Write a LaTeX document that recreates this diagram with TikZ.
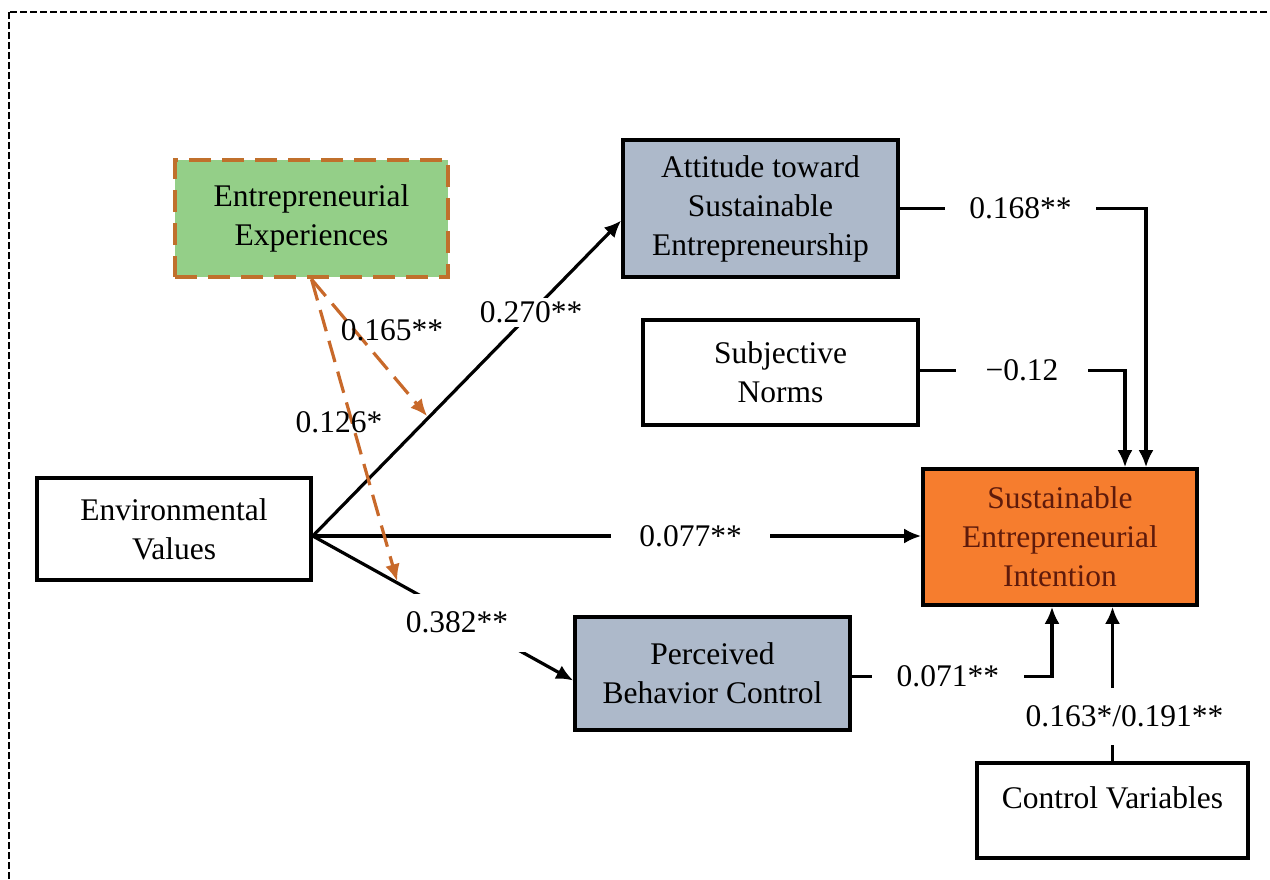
\documentclass[tikz,border=0pt]{standalone}
\usepackage{fontspec}
\setmainfont{Liberation Serif}
\usetikzlibrary{arrows.meta,calc}
\definecolor{eegreen}{HTML}{94CF88}
\definecolor{eeborder}{HTML}{C0702C}
\definecolor{modarrow}{HTML}{C8692A}
\definecolor{bluegray}{HTML}{ADB9CA}
\definecolor{seifill}{HTML}{F67D2E}
\definecolor{seitext}{HTML}{5E1A0B}
\begin{document}
\begin{tikzpicture}[x=1pt,y=-1pt,
  font=\fontsize{31.5}{39}\selectfont,
  box/.style={draw, line width=3.6pt, inner sep=0pt, align=center},
  arr/.style={line width=3.2pt, -{Latex[length=17pt,width=15pt]}},
  oarr/.style={line width=3.2pt, draw=modarrow, dash pattern=on 22pt off 10pt,
    -{Latex[length=17pt,width=15pt]}, shorten >=2pt},
  lbl/.style={fill=white, inner xsep=25pt, inner ysep=4pt},
  freelbl/.style={inner sep=0pt}]
\useasboundingbox (0,0) rectangle (1270,880);
\clip (0,0) rectangle (1270,880);
% outer dashed frame
\draw[line width=2.2pt, dash pattern=on 7pt off 3pt] (9,12) rectangle (1290,900);

% boxes
\node[box, draw=eeborder, line width=4.5pt, dash pattern=on 22pt off 11pt, fill=eegreen,
  minimum width=273pt, minimum height=117pt] (EE) at (311.5,218.5)
  {Entrepreneurial\\Experiences};
\node[box, fill=bluegray, minimum width=275pt, minimum height=137pt] (Att) at (760.5,208.5)
  {Attitude toward\\Sustainable\\Entrepreneurship};
\node[box, minimum width=275pt, minimum height=105pt] (SN) at (780.5,372.5)
  {Subjective\\Norms};
\node[box, minimum width=274pt, minimum height=102pt] (EV) at (174,529)
  {Environmental\\Values};
\node[box, fill=seifill, text=seitext, minimum width=274pt, minimum height=136pt] (SEI) at (1060,537)
  {Sustainable\\Entrepreneurial\\Intention};
\node[box, fill=bluegray, minimum width=275pt, minimum height=113pt] (PBC) at (712.5,673.5)
  {Perceived\\Behavior Control};
\node[box, minimum width=271pt, minimum height=95pt] (CV) at (1112.5,810.5) {};
\node (CVt) at (1112.5,797.5) {Control Variables};

% origin of the paths from Environmental Values
\coordinate (o) at ($(EV.east)+(0,7)$);
\coordinate (attin) at ($(Att.west)+(0,12)$);
\coordinate (pbcin) at ($(PBC.west)+(0,7)$);

% paths
\draw[arr] (o) -- node[lbl, pos=0.708, inner xsep=5pt]{0.270**} (attin);
\draw[arr] (o) -- node[lbl, pos=0.621, inner xsep=28pt]{0.077**} (o -| SEI.west);
\draw[arr] (o) -- node[fill=white, inner sep=0pt, pos=0.6, minimum width=110pt, minimum height=58pt]
  {0.382**\hspace*{24pt}} (pbcin);

\draw[arr] (Att.east) -| node[lbl, pos=0.245, inner xsep=24pt]{0.168**} ($(SEI.north)+(86,0)$);
\draw[arr] ($(SN.east)+(0,-2)$) -| node[lbl, pos=0.249, inner xsep=30pt]{−0.12} ($(SEI.north)+(65,0)$);
\draw[arr] ($(PBC.east)+(0,3)$) -| node[lbl, pos=0.24, inner xsep=25pt]{0.071**} ($(SEI.south)+(-8,0)$);
\draw[arr] (CV.north) -- node[fill=white, pos=0.29, xshift=12pt, inner xsep=3pt, inner ysep=18pt]{0.163*/0.191**} ($(SEI.south)+(52.5,0)$);

% moderation paths
\path (o) -- coordinate[pos=0.375] (m1) (attin);
\path (o) -- coordinate[pos=0.326] (m2) (pbcin);
\draw[oarr] (EE.south) -- (m1);
\draw[oarr] (EE.south) -- (m2);
\node[freelbl] (l165) at (392,330) {0.165**};
\node[freelbl] (l126) at (339,422) {0.126*};
\end{tikzpicture}
\end{document}
